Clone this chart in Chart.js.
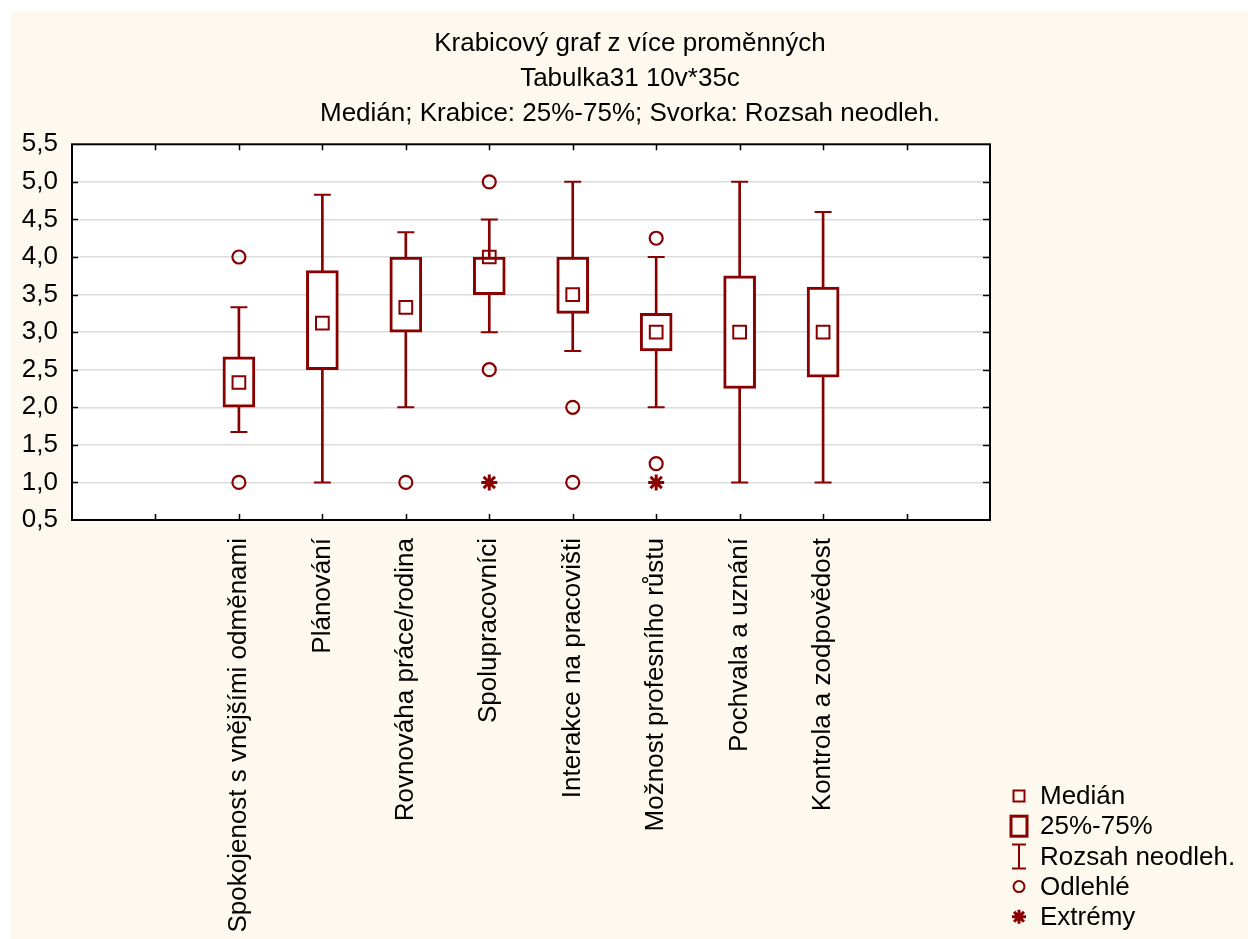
<!DOCTYPE html>
<html>
<head>
<meta charset="utf-8">
<script src="https://cdn.jsdelivr.net/npm/chart.js@4.4.1/dist/chart.umd.min.js"></script>
<style>
  html, body { margin: 0; padding: 0; background: #fff; }
  #div_canva { width: 1248px; height: 939px; }
</style>
</head>
<body>
<div id="div_canva"><canvas id="myChart"></canvas></div>
<script>
// data
const categories = ['Spokojenost s vnějšími odměnami', 'Plánování', 'Rovnováha práce/rodina', 'Spolupracovníci',
  'Interakce na pracovišti', 'Možnost profesního růstu', 'Pochvala a uznání', 'Kontrola a zodpovědost'];
const positions = [2, 3, 4, 5, 6, 7, 8, 9];
const medians = [2.33, 3.12, 3.33, 4.0, 3.5, 3.0, 3.0, 3.0];
const q1 = [2.0, 2.5, 3.0, 3.5, 3.25, 2.75, 2.25, 2.4];
const q3 = [2.67, 3.82, 4.0, 4.0, 4.0, 3.25, 3.75, 3.6];
const whiskerLow = [1.67, 1.0, 2.0, 3.0, 2.75, 2.0, 1.0, 1.0];
const whiskerHigh = [3.33, 4.83, 4.33, 4.5, 5.0, 4.0, 5.0, 4.6];
const outliers = [[4.0, 1.0], [], [1.0], [5.0, 2.5], [2.0, 1.0], [4.25, 1.25], [], []];
const extremes = [[], [], [], [1.0], [], [1.0], [], []];
const titleLines = ['Krabicový graf z více proměnných', 'Tabulka31 10v*35c', 'Medián; Krabice: 25%-75%; Svorka: Rozsah neodleh.'];
const legendLabels = ['Medián', '25%-75%', 'Rozsah neodleh.', 'Odlehlé', 'Extrémy'];

const RED = '#880000';
const FONT = "'Liberation Sans', Arial, sans-serif";

function points(lists) {
  const out = [];
  lists.forEach((vals, i) => vals.forEach(v => out.push({ x: positions[i], y: v })));
  return out;
}

const frameAndLegend = {
  id: 'frameAndLegend',
  beforeDraw(chart) {
    const { ctx, chartArea: a } = chart;
    ctx.save();
    ctx.fillStyle = '#fef9ee';
    ctx.fillRect(11, 11, chart.width - 11, chart.height - 11);
    ctx.fillStyle = '#ffffff';
    ctx.fillRect(a.left, a.top, a.right - a.left, a.bottom - a.top);
    ctx.restore();
  },
  afterDatasetsDraw(chart) {
    const { ctx, chartArea: a, scales } = chart;
    ctx.save();
    ctx.strokeStyle = '#000';
    ctx.lineWidth = 2;
    ctx.strokeRect(a.left, a.top, a.right - a.left, a.bottom - a.top);
    ctx.lineWidth = 1.5;
    ctx.beginPath();
    for (let v = 1; v <= 10; v++) {
      const x = Math.round(scales.x.getPixelForValue(v)) + 0.5;
      ctx.moveTo(x, a.bottom); ctx.lineTo(x, a.bottom - 6);
      ctx.moveTo(x, a.top); ctx.lineTo(x, a.top + 6);
    }
    scales.y.ticks.forEach(t => {
      if (t.value <= 0.5 || t.value >= 5.5) return;
      const y = Math.round(scales.y.getPixelForValue(t.value)) + 0.5;
      ctx.moveTo(a.left, y); ctx.lineTo(a.left + 6, y);
      ctx.moveTo(a.right, y); ctx.lineTo(a.right - 7, y);
    });
    ctx.stroke();
    ctx.restore();
  },
  afterDraw(chart) {
    const ctx = chart.ctx;
    const sx = 1019, tx = 1040, y0 = 796, step = 30.2;
    ctx.save();
    ctx.font = '26px ' + FONT;
    ctx.textBaseline = 'middle';
    legendLabels.forEach((txt, i) => {
      const y = y0 + i * step;
      ctx.fillStyle = '#000';
      ctx.fillText(txt, tx, y + 1);
      ctx.strokeStyle = RED;
      ctx.fillStyle = 'rgba(0,0,0,0)';
      if (i === 0) {
        ctx.lineWidth = 2;
        ctx.strokeRect(sx - 5.5, y - 5.5, 11, 11);
      } else if (i === 1) {
        ctx.lineWidth = 3;
        ctx.strokeRect(sx - 8, y - 10, 16, 20);
      } else if (i === 2) {
        ctx.lineWidth = 2;
        ctx.beginPath();
        ctx.moveTo(sx - 7, y - 12); ctx.lineTo(sx + 7, y - 12);
        ctx.moveTo(sx, y - 12); ctx.lineTo(sx, y + 12);
        ctx.moveTo(sx - 7, y + 12); ctx.lineTo(sx + 7, y + 12);
        ctx.stroke();
      } else if (i === 3) {
        ctx.lineWidth = 2;
        Chart.helpers.drawPoint(ctx, { pointStyle: 'circle', radius: 5.5, borderWidth: 2 }, sx, y);
      } else {
        ctx.lineWidth = 3;
        Chart.helpers.drawPoint(ctx, { pointStyle: 'star', radius: 7, borderWidth: 3 }, sx, y);
      }
    });
    ctx.restore();
  }
};

const ctx = document.getElementById('myChart');

new Chart(ctx, {
  type: 'bar',
  data: {
    datasets: [
      {
        label: 'Rozsah neodleh.',
        data: positions.map((p, i) => ({ x: p, y: [whiskerLow[i], whiskerHigh[i]] })),
        backgroundColor: RED,
        borderWidth: 0,
        barThickness: 2,
        grouped: false,
        order: 5
      },
      {
        label: '25%-75%',
        data: positions.map((p, i) => ({ x: p, y: [q1[i], q3[i]] })),
        backgroundColor: '#ffffff',
        borderColor: RED,
        borderWidth: 3,
        borderSkipped: false,
        barThickness: 32,
        grouped: false,
        order: 4
      },
      {
        type: 'scatter',
        label: 'caps',
        data: positions.flatMap((p, i) => [{ x: p, y: whiskerLow[i] }, { x: p, y: whiskerHigh[i] }]),
        pointStyle: 'line',
        pointRadius: 8.5,
        borderColor: RED,
        borderWidth: 2,
        order: 3
      },
      {
        type: 'scatter',
        label: 'Medián',
        data: positions.map((p, i) => ({ x: p, y: medians[i] })),
        pointStyle: 'rect',
        pointRadius: 9,
        borderColor: RED,
        backgroundColor: 'rgba(0,0,0,0)',
        borderWidth: 2,
        order: 2
      },
      {
        type: 'scatter',
        label: 'Odlehlé',
        data: points(outliers),
        pointStyle: 'circle',
        pointRadius: 6.5,
        borderColor: RED,
        backgroundColor: 'rgba(0,0,0,0)',
        borderWidth: 2.2,
        order: 1
      },
      {
        type: 'scatter',
        label: 'Extrémy',
        data: points(extremes),
        pointStyle: 'star',
        pointRadius: 8,
        borderColor: RED,
        borderWidth: 3,
        order: 0
      }
    ]
  },
  options: {
    responsive: true,
    maintainAspectRatio: false,
    animation: false,
    layout: { padding: { top: 11, left: 12, right: 0, bottom: 0 } },
    scales: {
      x: {
        type: 'linear',
        offset: false,
        min: 0,
        max: 11,
        afterFit(s) { s.height = 419; },
        grid: { display: false },
        border: { display: false },
        ticks: {
          stepSize: 1,
          autoSkip: false,
          minRotation: 90,
          maxRotation: 90,
          padding: 10,
          color: '#000',
          font: { family: FONT, size: 26 },
          callback: v => {
            const i = positions.indexOf(v);
            return i >= 0 ? categories[i] : '';
          }
        }
      },
      y: {
        min: 0.5,
        max: 5.5,
        afterFit(s) { s.width = 60; },
        border: { display: false },
        grid: {
          drawTicks: false,
          color: c => (c.tick && c.tick.value > 0.6 && c.tick.value < 5.4) ? '#dcdcdc' : 'rgba(0,0,0,0)',
          lineWidth: 1.5
        },
        ticks: {
          stepSize: 0.5,
          padding: 14,
          color: '#000',
          font: { family: FONT, size: 26 },
          callback: v => v.toFixed(1).replace('.', ',')
        }
      },
      y2: {
        position: 'right',
        min: 0.5,
        max: 5.5,
        afterFit(s) { s.width = 258; },
        border: { display: false },
        grid: { drawOnChartArea: false, drawTicks: false },
        ticks: { display: false }
      }
    },
    plugins: {
      legend: { display: false },
      tooltip: { enabled: false },
      title: {
        display: true,
        text: titleLines,
        color: '#000',
        font: { family: FONT, size: 26, weight: 'normal', lineHeight: 1.35 },
        padding: { top: 15, bottom: 13 }
      }
    }
  },
  plugins: [frameAndLegend]
});
</script>
</body>
</html>
